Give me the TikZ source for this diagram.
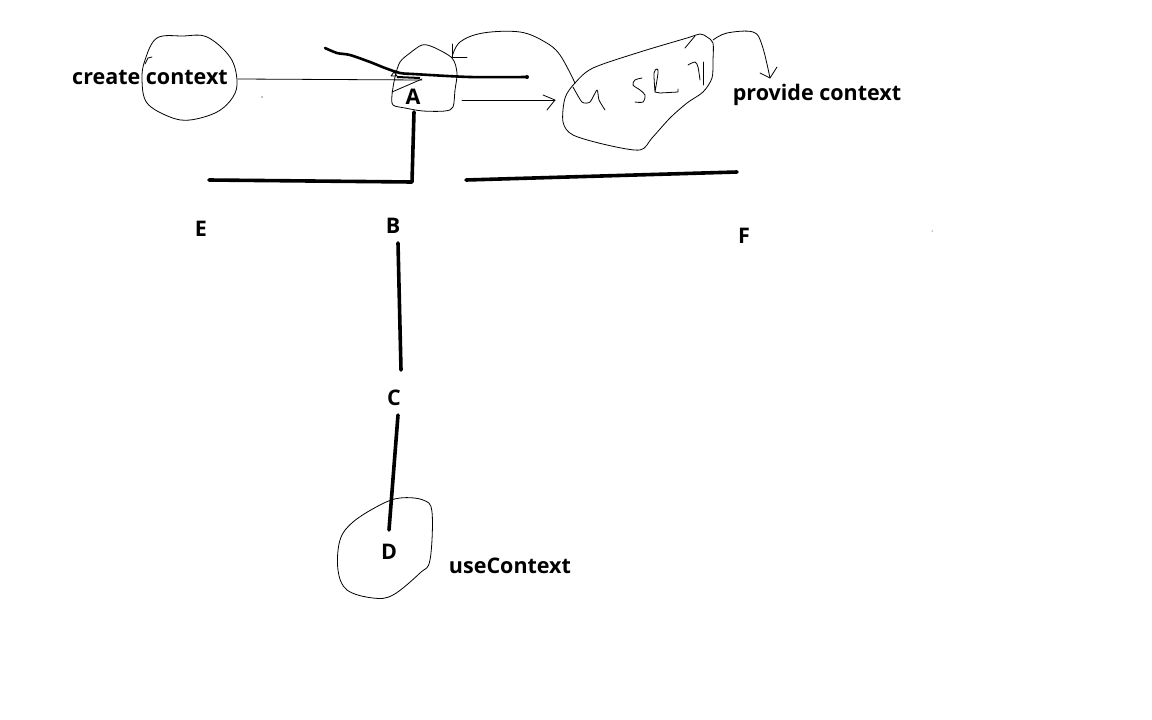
\documentclass[tikz,border=0pt]{standalone}
\usepackage{fontspec}
\setmainfont{Open Sans}
\usetikzlibrary{arrows.meta}
\begin{document}
\begin{tikzpicture}[x=1pt,y=-1pt,
  lbl/.style={font=\fontsize{21.5}{24}\selectfont\bfseries, inner sep=0pt},
  thin/.style={line width=0.8pt, line join=round, line cap=round},
  heavy/.style={line width=3.6pt, line cap=round, line join=round}]
\useasboundingbox (0,0) rectangle (1152,720);
% labels
\node[lbl] (lcreate) at (150,77) {create context};
\node[lbl] (lA) at (413,97) {A};
\node[lbl] (lB) at (393,226) {B};
\node[lbl] (lC) at (394,398) {C};
\node[lbl] (lD) at (389,552) {D};
\node[lbl] (lE) at (201,229) {E};
\node[lbl] (lF) at (744,236) {F};
\node[lbl] (lprov) at (817,95) {provide context};
\node[lbl] (luse) at (510,566) {useContext};
% blobs
\draw[thin] plot[smooth cycle, tension=0.6] coordinates {(157,38) (183,36) (207,37) (230,57) (237,80) (233,97) (217,112) (190,120) (170,117) (147,103) (142,80) (145,60)};
\draw[thin] (145,64) -- (148,58) -- (152,57);
\draw[thin] plot[smooth cycle, tension=0.5] coordinates {(422,45) (433,47) (452,58) (457,73) (455,90) (453,107) (445,111) (423,111) (405,108) (393,105) (392,95) (395,77) (400,62) (410,53)};
\draw[thin] (392,92) -- (422,79);
\draw[thin] plot[smooth cycle, tension=0.5] coordinates {(575,83) (593,68) (640,52) (687,38) (700,34) (707,37) (713,43) (713,60) (712,78) (703,92) (687,103) (670,118) (652,138) (640,150) (607,145) (573,135) (563,122) (565,98)};
\draw[thin] plot[smooth, tension=0.4] coordinates {(573,87) (582,102) (590,102) (597,90) (599,100) (605,110)};
\draw[thin] plot[smooth, tension=0.5] coordinates {(642,78) (635,80) (633,85) (640,90) (645,95) (643,102) (635,102)};
\draw[thin] plot[smooth, tension=0.5] coordinates {(655,92) (654,73) (657,69) (658,73) (655,92)};
\draw[thin] (655,92) -- (660,93) -- (678,92) -- (678,89);
\draw[thin] plot[smooth, tension=0.5] coordinates {(688,65) (695,62) (698,67) (700,80)};
\draw[thin] (703,62) -- (703,85);
\draw[thin] (685,48) -- (695,36);
\draw[thin] plot[smooth cycle, tension=0.6] coordinates {(353,522) (380,505) (400,498) (423,500) (432,512) (430,560) (420,573) (393,595) (373,598) (347,590) (338,570) (340,540)};
% named coordinates
\coordinate (cE) at (238,79);
\coordinate (aIn) at (422,80);
\coordinate (aTop) at (452,57);
\coordinate (aOut) at (462,100);
\coordinate (sIn) at (555,100);
\coordinate (sTop) at (575,83);
\coordinate (sTR) at (713,40);
\coordinate (pTip) at (770,78);
\coordinate (aBot) at (414,112);
\coordinate (jn) at (412,182);
\coordinate (eEnd) at (209,180);
\coordinate (fS) at (466,180);
\coordinate (fE) at (737,172);
\coordinate (bS) at (398,243);
\coordinate (bE) at (401,370);
\coordinate (cS) at (398,415);
\coordinate (dE) at (389,530);
\coordinate (w0) at (325,48);
\coordinate (w1) at (527,77);
% connectors
\draw[thin] (cE) -- (aIn);
\draw[line width=2pt] (397,77) -- (420,78);
\draw[thin] (391,76) -- (394,72) -- (397,76) -- cycle;
\draw[line width=2.6pt, line cap=round] plot[smooth, tension=0.5] coordinates {(w0) (337,53) (350,55) (370,62) (385,68) (400,73) (413,74) (470,77) (w1)};
\fill (w1) circle (2pt);
\draw[thin] (aOut) -- (sIn);
\draw[thin] (543,95) -- (sIn) -- (547,110);
\draw[thin] plot[smooth, tension=0.6] coordinates {(sTop) (560,55) (545,42) (520,32) (483,33) (460,42) (aTop)};
\draw[thin] (452,44) -- (aTop) -- (467,57);
\draw[thin] plot[smooth, tension=0.6] coordinates {(sTR) (727,33) (753,32) (762,45) (pTip)};
\draw[thin] (760,73) -- (pTip) -- (777,67);
\draw[heavy] (aBot) -- (jn) -- (eEnd);
\draw[heavy] (fS) -- (fE);
\draw[heavy] (bS) -- (bE);
\draw[heavy] (cS) -- (dE);
\fill (262,97) circle (0.6pt);
\fill (932,231) circle (0.5pt);
\end{tikzpicture}
\end{document}
